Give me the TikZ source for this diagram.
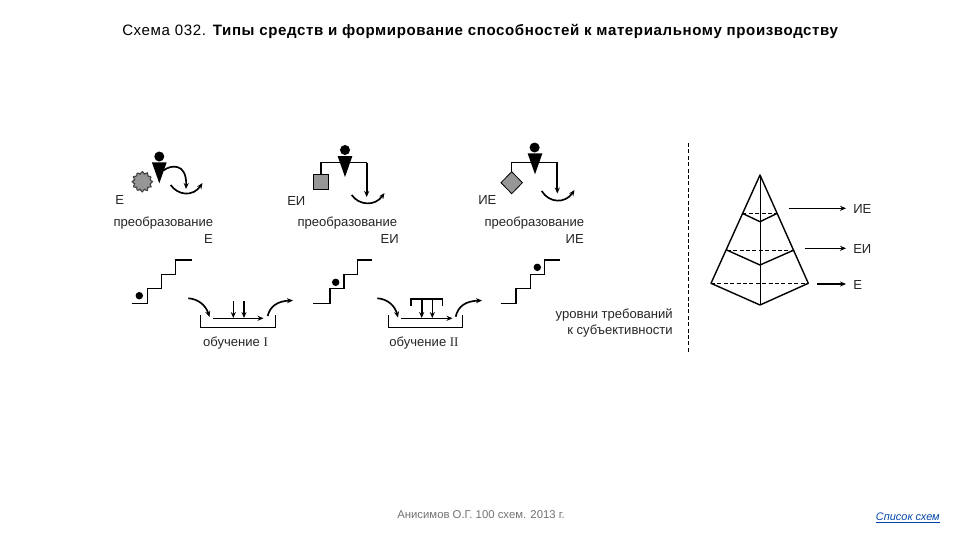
\documentclass[tikz,border=0pt]{standalone}
\usepackage{fontspec}
\setmainfont{Liberation Sans}
\newfontfamily\romfont{Liberation Serif}
\newfontfamily\titlefont[LetterSpace=4]{Liberation Sans}
\usetikzlibrary{arrows.meta}
\definecolor{blobgray}{RGB}{150,150,150}
\definecolor{linkblue}{RGB}{0,70,170}
\tikzset{
  x=0.75pt,y=-0.75pt,
  >={Stealth[length=4.5pt,width=3.8pt]},
  ln/.style={line width=0.85pt,black},
  thickln/.style={line width=1.25pt,black},
  dashln/.style={line width=0.65pt,black,dash pattern=on 3pt off 1.8pt},
  headdot/.style={circle,fill=black,inner sep=0pt,minimum size=7.5pt},
  ballmark/.style={circle,fill=black,inner sep=0pt,minimum size=5.6pt},
  txt/.style={font=\fontsize{9.8pt}{11pt}\selectfont,inner sep=0pt,text=black!85,yshift=-0.5pt},
  rtxt/.style={txt,anchor=east},
}
\newcommand{\trianglemark}[2]{% centre x, top y
  \fill[black] (#1-7.4,#2) -- (#1+7.4,#2) -- (#1,#2+21) -- cycle;
}
\begin{document}
\begin{tikzpicture}
\useasboundingbox[fill=white] (0,0) rectangle (960,540);

% title
\node[anchor=base west,inner sep=0pt,font=\fontsize{11.3pt}{12pt}\titlefont] (title) at (122,35) {Схема 032. \textbf{Типы средств и формирование способностей к материальному производству}};

% ---------- actor E
\fill[blobgray,draw=black!75,line width=0.9pt,dash pattern=on 1pt off 0.3pt]
  plot[smooth cycle,samples=48,domain=0:352.5] ({142.3+(9+1.1*cos(12*\x))*cos(\x)},{181.7+(9+1.1*cos(12*\x))*sin(\x)});
\node[headdot] (h1) at (159.3,156.5) {};
\trianglemark{159.3}{162.3}
\coordinate (a1s) at (163.5,170.5);
\coordinate (a1e) at (186,189);
\draw[thickln,->] (a1s) .. controls (170,165) and (187,162) .. (a1e);
\coordinate (c1s) at (170.7,185);
\coordinate (c1e) at (202.5,183);
\draw[thickln,->] (c1s) .. controls (178,195.5) and (193,197) .. (c1e);
\node[txt,anchor=west] (e1) at (115,199.5) {Е};
\node[rtxt] (p1) at (213.5,222) {преобразование};
\node[rtxt] (q1) at (213,238) {Е};

% ---------- actor EI
\node[headdot] (h2) at (345,150) {};
\trianglemark{345}{156}
\node[draw=black,line width=0.6pt,fill=blobgray,minimum size=11.2pt,inner sep=0pt] (sq) at (321,181.8) {};
\coordinate (s2a) at (321,162.7);
\coordinate (s2b) at (366.7,162.7);
\coordinate (s2c) at (366.7,197);
\draw[ln] (sq.north) -- (s2a) -- (s2b);
\draw[thickln,->] (s2b) -- (s2c);
\coordinate (c2s) at (351.7,195);
\coordinate (c2e) at (384.5,193);
\draw[thickln,->] (c2s) .. controls (359,205.5) and (375,206.5) .. (c2e);
\node[txt,anchor=west] (e2) at (287,200) {ЕИ};
\node[rtxt] (p2) at (397.5,222) {преобразование};
\node[rtxt] (q2) at (399,238) {ЕИ};

% ---------- actor IE
\node[headdot] (h3) at (534.6,147.5) {};
\trianglemark{535}{153.3}
\fill[blobgray,draw=black,line width=0.6pt] (511.7,171.7) -- (522.4,182.7) -- (511.7,193.7) -- (501,182.7) -- cycle;
\coordinate (d3) at (511.7,171.7);
\coordinate (s3a) at (511.7,162.3);
\coordinate (s3b) at (557.3,162.3);
\coordinate (s3c) at (557.3,193.5);
\draw[ln] (d3) -- (s3a) -- (s3b);
\draw[thickln,->] (s3b) -- (s3c);
\coordinate (c3s) at (541.7,191);
\coordinate (c3e) at (574.5,190);
\draw[thickln,->] (c3s) .. controls (549,203) and (565,204) .. (c3e);
\node[txt,anchor=west] (e3) at (478,199.5) {ИЕ};
\node[rtxt] (p3) at (584.5,222) {преобразование};
\node[rtxt] (q3) at (584,238) {ИЕ};

% ---------- stairs
\draw[ln] (131.7,303.3) -| (147.7,288.3) -| (161.7,274.3) -| (175.7,260) -- (191.7,260);
\node[ballmark] (b1) at (139.3,295.7) {};
\draw[ln] (313.3,303.3) -| (330,288.3) -| (344,274.3) -| (357.7,260) -- (371.7,260);
\node[ballmark] (b2) at (335.7,282.3) {};
\draw[ln] (500.7,303.3) -| (516,288.3) -| (530.7,274.3) -| (544.3,260) -- (560,260);
\node[ballmark] (b3) at (537.3,267.3) {};

% ---------- training I
\draw[ln] (200.7,315) |- (275.7,327.3) -- (275.7,315);
\coordinate (i1a) at (212.7,318.3);
\coordinate (i1b) at (263.5,318.3);
\draw[ln,->] (i1a) -- (i1b);
\coordinate (v1a) at (233.3,301);
\coordinate (v1b) at (233.3,318);
\coordinate (v2a) at (244,301);
\coordinate (v2b) at (244,318);
\draw[ln,->] (v1a) -- (v1b);
\draw[thickln,->] (v2a) -- (v2b);
\coordinate (in1a) at (188.3,298.3);
\coordinate (in1b) at (209.5,317);
\draw[thickln,->] (in1a) .. controls (199,299) and (206,306) .. (in1b);
\coordinate (o1a) at (267.7,316);
\coordinate (o1b) at (293,300.5);
\draw[thickln,->] (o1a) .. controls (270,306) and (278,301) .. (o1b);
\node[txt] (t1) at (235.5,342) {обучение {\romfont I}};

% ---------- training II
\draw[ln] (388.3,315) |- (462.7,327.3) -- (462.7,315);
\coordinate (i2a) at (401,318.3);
\coordinate (i2b) at (452.5,318.3);
\draw[ln,->] (i2a) -- (i2b);
\draw[ln] (411,305.7) |- (442.7,299) -- (442.7,305.7);
\coordinate (w1a) at (421.7,299);
\coordinate (w1b) at (421.7,318);
\coordinate (w2a) at (432.3,299);
\coordinate (w2b) at (432.3,318);
\draw[thickln,->] (w1a) -- (w1b);
\draw[ln,->] (w2a) -- (w2b);
\coordinate (in2a) at (377.3,298.3);
\coordinate (in2b) at (398,317.5);
\draw[thickln,->] (in2a) .. controls (388,299) and (395,306) .. (in2b);
\coordinate (o2a) at (455.7,316.7);
\coordinate (o2b) at (482,300.5);
\draw[thickln,->] (o2a) .. controls (458,306) and (466,301) .. (o2b);
\node[txt] (t2) at (424,342) {обучение {\romfont II}};

% ---------- levels text
\node[rtxt] (u1) at (673,314.5) {уровни требований};
\node[rtxt] (u2) at (673,330) {к субъективности};

% ---------- separator
\coordinate (sepa) at (688.7,143);
\coordinate (sepb) at (688.7,354);
\draw[dashln] (sepa) -- (sepb);

% ---------- pyramid
\coordinate (apex) at (760,175);
\coordinate (pl) at (711,283.3);
\coordinate (pr) at (808.3,283.3);
\coordinate (pb) at (760,305);
\draw[line join=round,line width=1.05pt] (pl) -- (apex) -- (pr) -- (pb) -- cycle;
\draw[line width=0.6pt] (apex) -- (pb);
\draw[dashln] (pl) -- (pr);
\coordinate (l2a) at (726.7,250);
\coordinate (l2b) at (794,250);
\coordinate (l2m) at (760,265);
\draw[line width=1.05pt] (l2a) -- (l2m) -- (l2b);
\draw[dashln] (l2a) -- (l2b);
\coordinate (l1a) at (742.3,213.3);
\coordinate (l1b) at (777.3,213.3);
\coordinate (l1m) at (760,221.7);
\draw[line width=1.05pt] (l1a) -- (l1m) -- (l1b);
\draw[dashln] (l1a) -- (l1b);

\node[txt,anchor=west] (lie) at (853,208.3) {ИЕ};
\node[txt,anchor=west] (lei) at (853,248.3) {ЕИ};
\node[txt,anchor=west] (le) at (853,284) {Е};
\coordinate (ar1) at (789,208.3);
\coordinate (ar2) at (805,248.3);
\coordinate (ar3) at (817.3,284);
\draw[ln,->] (ar1) -- (846,208.3);
\draw[ln,->] (ar2) -- (846,248.3);
\draw[line width=1.5pt,->] (ar3) -- (846,284);

% ---------- footer
\node[inner sep=0pt,anchor=base,font=\fontsize{8.5pt}{10pt}\selectfont,text=black!55] (foot) at (481,518) {Анисимов О.Г. 100 схем. 2013 г.};
\node[inner sep=0pt,anchor=base east,font=\fontsize{8.2pt}{10pt}\selectfont\itshape,text=linkblue] (link) at (940,520) {\underline{Список схем}};
\end{tikzpicture}
\end{document}
